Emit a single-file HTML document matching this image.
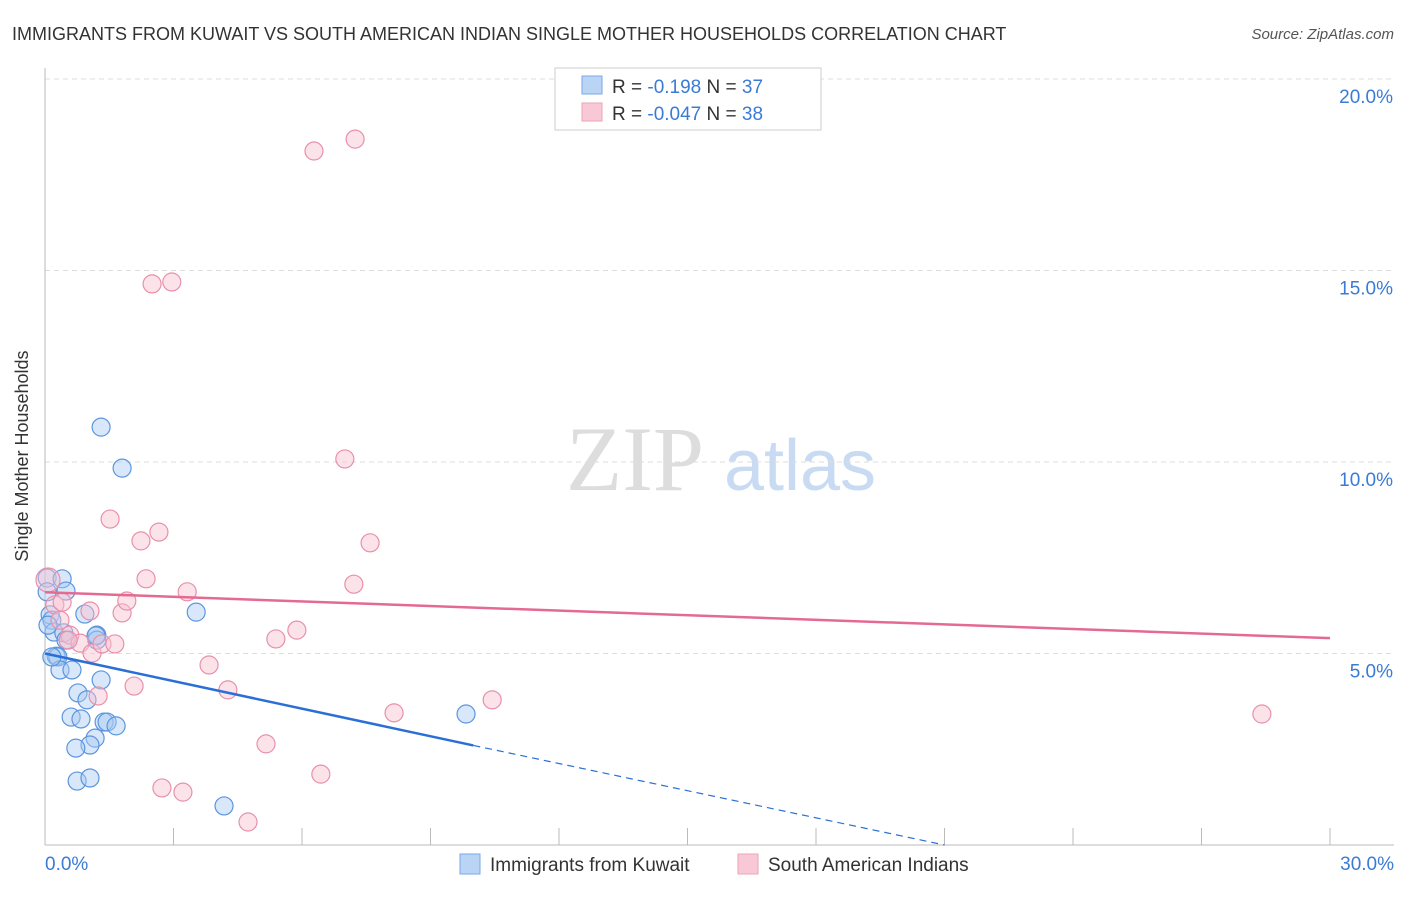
<!DOCTYPE html>
<html><head><meta charset="utf-8"><style>
body{margin:0;background:#fff;font-family:"Liberation Sans",sans-serif;}
</style></head><body>
<svg width="1406" height="892" xmlns="http://www.w3.org/2000/svg" font-family="Liberation Sans, sans-serif">
<text x="12" y="40" font-size="18" fill="#333">IMMIGRANTS FROM KUWAIT VS SOUTH AMERICAN INDIAN SINGLE MOTHER HOUSEHOLDS CORRELATION CHART</text>
<text x="1394" y="39" font-size="15" fill="#555" font-style="italic" text-anchor="end">Source: ZipAtlas.com</text>
<text x="28" y="456" font-size="18" fill="#333" text-anchor="middle" transform="rotate(-90 28 456)">Single Mother Households</text>
<g><text x="635" y="490" font-size="92" fill="#ddd" font-family="Liberation Serif, serif" text-anchor="middle">ZIP</text><text x="800" y="490" font-size="72" fill="#c9dbf2" text-anchor="middle">atlas</text></g>
<g id="grid"></g><g id="axes"></g><g id="marks"></g>
<g>
<rect x="555" y="68" width="266" height="62" fill="#fff" stroke="#ccc"/>
<rect x="582" y="76" width="20" height="18" fill="#b9d4f5" stroke="#7aa9e6"/>
<rect x="582" y="103" width="20" height="18" fill="#f9c8d6" stroke="#eba3b9"/>
<text x="612" y="93" font-size="19" fill="#333">R = <tspan fill="#3a7bd5"> -0.198</tspan>   N = <tspan fill="#3a7bd5">37</tspan></text>
<text x="612" y="120" font-size="19" fill="#333">R = <tspan fill="#3a7bd5">-0.047</tspan>   N = <tspan fill="#3a7bd5">38</tspan></text>
</g>
<g>
<rect x="460" y="854" width="20" height="20" fill="#b9d4f5" stroke="#7aa9e6"/>
<text x="490" y="871" font-size="19" fill="#333">Immigrants from Kuwait</text>
<rect x="738" y="854" width="20" height="20" fill="#f9c8d6" stroke="#eba3b9"/>
<text x="768" y="871" font-size="19" fill="#333">South American Indians</text>
</g>
</svg>
<script>
const yTicks=[5,10,15,20];
const xTickLabels=["0.0%","30.0%"];
const blueX=[0.05,0.40,0.49,0.05,0.12,0.16,0.21,0.44,0.49,0.26,0.30,0.35,0.63,0.93,1.21,1.21,1.31,0.77,0.98,0.61,0.84,1.38,1.45,1.66,1.17,1.05,0.72,0.75,1.05,1.31,1.80,3.53,4.18,9.83,0.07,0.16,1.19];
const blueY=[6.97,6.95,6.63,6.61,6.01,5.87,5.56,5.54,5.35,4.93,4.91,4.57,4.57,6.03,5.48,5.35,4.31,3.97,3.79,3.34,3.29,3.21,3.21,3.11,2.79,2.61,2.53,1.67,1.75,10.91,9.84,6.08,1.02,3.42,5.74,4.91,5.46];
const pinkX=[0.07,0.23,0.35,0.40,0.58,0.82,1.05,1.10,1.33,1.63,1.80,1.91,0.54,1.24,1.52,2.24,2.66,2.36,3.32,2.50,2.96,6.28,7.24,7.00,7.59,7.21,5.88,5.39,3.83,4.27,2.08,2.73,3.22,4.74,5.16,6.44,8.15,10.44,28.41];
const pinkY=[6.92,6.27,5.87,6.34,5.48,5.27,6.11,5.01,5.25,5.25,6.06,6.37,5.35,3.89,8.51,7.94,8.17,6.95,6.61,14.65,14.70,18.12,18.43,10.08,7.89,6.81,5.61,5.38,4.70,4.05,4.15,1.49,1.38,0.60,2.64,1.85,3.45,3.79,3.42];
const blueTrend=[[0,5.0],[10,2.6],[21,0]];
const pinkTrend=[[0,6.6],[30,5.4]];
const NS="http://www.w3.org/2000/svg";
const X=v=>45+v/30*1285, Y=v=>845-v*38.3;
function mk(t,a,p){const e=document.createElementNS(NS,t);for(const k in a)e.setAttribute(k,a[k]);p.appendChild(e);return e;}
const grid=document.getElementById('grid'),axes=document.getElementById('axes'),marks=document.getElementById('marks');
yTicks.forEach(t=>{const l=mk('line',{x1:45,x2:1394,y1:Y(t),y2:Y(t),stroke:'#ddd','stroke-dasharray':'5,4'},grid);


const tx=mk('text',{x:1393,y:Y(t)+24,'font-size':19,fill:'#3a7bd5','text-anchor':'end'},axes);tx.textContent=t.toFixed(1)+'%';

});
const ax=mk('line',{x1:45,x2:1394,y1:845,y2:845,stroke:'#bbb'},axes);


const ay=mk('line',{x1:45,x2:45,y1:68,y2:845,stroke:'#bbb'},axes);


for(let i=0;i<=10;i++){const t=mk('line',{x1:X(i*3),x2:X(i*3),y1:828,y2:845,stroke:'#bbb'},axes);

}
[[0,'start',45],[1,'end',1394]].forEach(([i,a,x])=>{const t=mk('text',{x:x,y:870,'font-size':19,fill:'#3a7bd5','text-anchor':a},axes);t.textContent=xTickLabels[i];

});
function pts(xs,ys,f,s,n){xs.forEach((x,i)=>{const c=mk('circle',{cx:X(x),cy:Y(ys[i]),r:i==0&&n=='pink'?12:9,fill:f,'fill-opacity':0.45,stroke:s,'stroke-width':1.2},marks);

});}
pts(blueX,blueY,'#a9c9f2','#5b95e0','blue');
pts(pinkX,pinkY,'#f8c0d0','#e890ab','pink');
const b1=mk('line',{x1:X(blueTrend[0][0]),y1:Y(blueTrend[0][1]),x2:X(blueTrend[1][0]),y2:Y(blueTrend[1][1]),stroke:'#2a6fd6','stroke-width':2.5},marks);


const b2=mk('line',{x1:X(blueTrend[1][0]),y1:Y(blueTrend[1][1]),x2:X(blueTrend[2][0]),y2:Y(blueTrend[2][1]),stroke:'#2a6fd6','stroke-width':1.2,'stroke-dasharray':'7,5'},marks);


const p1=mk('line',{x1:X(pinkTrend[0][0]),y1:Y(pinkTrend[0][1]),x2:X(pinkTrend[1][0]),y2:Y(pinkTrend[1][1]),stroke:'#e46a93','stroke-width':2.5},marks);


</script>
</body></html>
